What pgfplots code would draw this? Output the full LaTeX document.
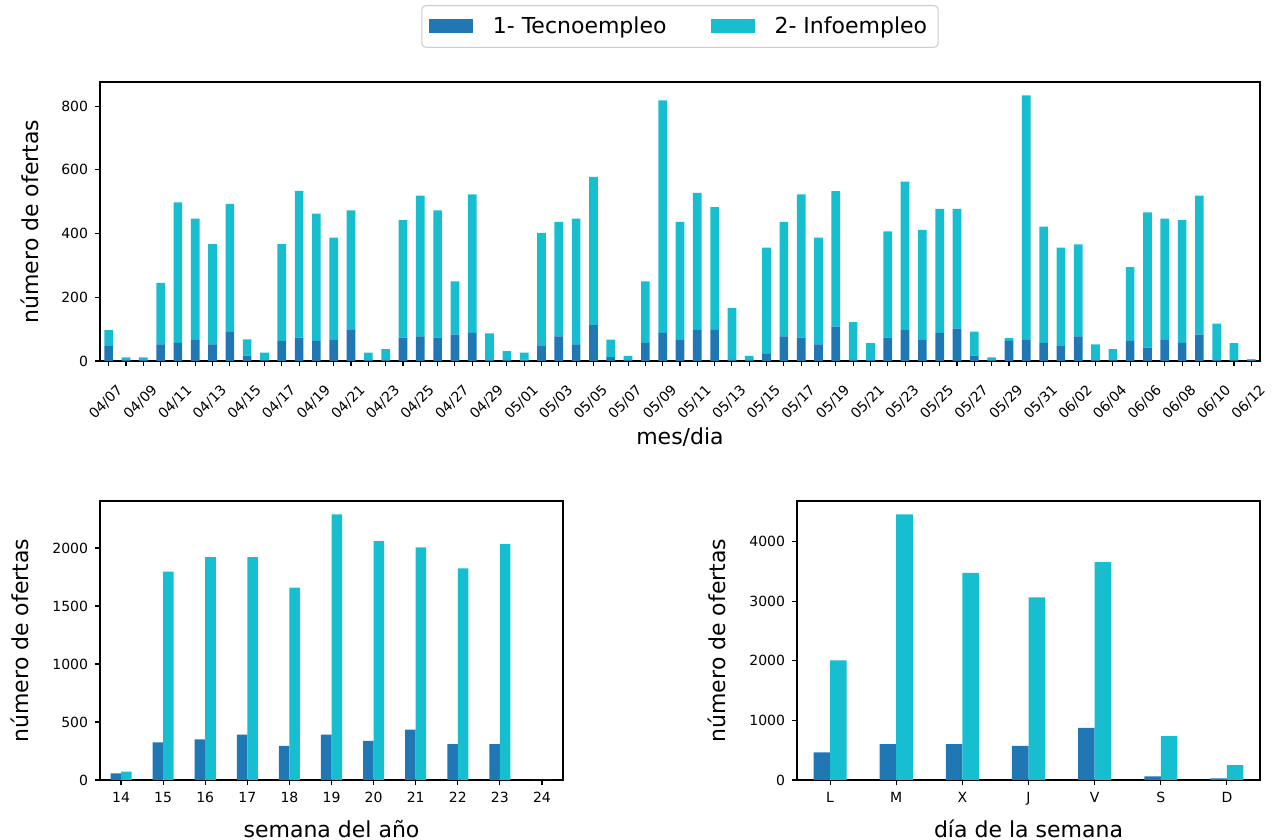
\documentclass[border=0pt]{standalone}
\usepackage{fontspec}
\setmainfont{DejaVu Sans}
\usepackage{pgfplots}
\usepackage{pgfplotstable}
\pgfplotsset{compat=1.18}
\definecolor{tblue}{HTML}{1F77B4}
\definecolor{tcyan}{HTML}{17BECF}

\pgfplotstableread{
i tec info
0 47 50
1 5 6
2 5 6
3 52 193
4 57 441
5 68 379
6 52 315
7 93 400
8 17 51
9 2 24
10 63 304
11 73 461
12 63 400
13 68 319
14 98 375
15 5 21
16 5 32
17 73 369
18 77 442
19 73 400
20 83 167
21 88 435
22 5 82
23 5 26
24 4 22
25 47 355
26 77 360
27 52 395
28 113 465
29 12 55
30 5 11
31 57 193
32 88 730
33 68 369
34 98 430
35 98 385
36 5 162
37 5 11
38 22 334
39 77 360
40 73 450
41 52 335
42 108 425
43 5 117
44 5 51
45 73 334
46 98 465
47 68 344
48 88 390
49 102 376
50 17 75
51 5 6
52 63 9
53 68 766
54 57 365
55 47 309
56 77 289
57 5 47
58 2 35
59 63 232
60 42 425
61 68 379
62 57 385
63 83 436
64 5 112
65 1 55
66 5 0
}\daily

\pgfplotstableread{
i tec info
0 57 72
1 324 1796
2 350 1922
3 392 1922
4 295 1659
5 392 2290
6 338 2060
7 435 2005
8 309 1825
9 309 2034
10 0 0
}\weekly

\pgfplotstableread{
i tec info
0 463 2008
1 603 4462
2 603 3476
3 575 3068
4 876 3660
5 61 736
6 28 251
}\weekday

\begin{document}
\begin{tikzpicture}
\useasboundingbox (0pt,0pt) rectangle (637pt,420pt);
\pgfplotsset{
  base/.style={
    scale only axis, height=139.5pt,
    axis line style={line width=0.55pt},
    every tick/.style={line width=0.55pt, black},
    major tick length=2.45pt, minor tick length=2.45pt,
    tick align=outside, xtick pos=left, ytick pos=left,
    tick label style={font=\fontsize{7}{8}\selectfont},
    label style={font=\fontsize{11}{13}\selectfont},
    /pgf/number format/assume math mode=true,
    /pgf/number format/1000 sep={},
    enlargelimits=false,
    ymin=0,
  },
}
\begin{axis}[base, at={(50pt,239.5pt)}, anchor=south west, width=580pt,
  xmin=-0.5, xmax=66.5, ymax=876,
  ybar stacked, bar width=0.5,
  xtick={0,2,...,66}, minor xtick={1,3,...,65},
  xticklabels={04/07,04/09,04/11,04/13,04/15,04/17,04/19,04/21,04/23,04/25,04/27,04/29,05/01,05/03,05/05,05/07,05/09,05/11,05/13,05/15,05/17,05/19,05/21,05/23,05/25,05/27,05/29,05/31,06/02,06/04,06/06,06/08,06/10,06/12},
  xticklabel style={yshift=-18.25pt, xshift=-1.4pt, rotate=45, anchor=center},
  ytick={0,200,400,600,800},
  xlabel={mes/dia}, ylabel={número de ofertas},
  xlabel style={at={(axis description cs:0.5,-0.2724)}, anchor=center},
  ylabel style={at={(axis description cs:-0.0603,0.5)}, anchor=center},
  legend columns=2,
  legend style={at={(0.5,1.199)}, anchor=center, draw=black!20, line width=0.5pt,
    rounded corners=2pt, font=\fontsize{11}{13}\selectfont,
    inner xsep=3.5pt, inner ysep=3.5pt,
    /tikz/every odd column/.append style={column sep=8pt},
    /tikz/every even column/.append style={column sep=20pt}},
]
\addplot[fill=tblue, draw=none, legend image code/.code={\fill[tblue, sharp corners] (0pt,-3.5pt) rectangle (22pt,3.5pt);}] table[x=i,y=tec]{\daily};
\addlegendentry{1- Tecnoempleo}
\addplot[fill=tcyan, draw=none, legend image code/.code={\fill[tcyan, sharp corners] (0pt,-3.5pt) rectangle (22pt,3.5pt);}] table[x=i,y=info]{\daily};
\addlegendentry{2- Infoempleo}
\end{axis}

\begin{axis}[base, at={(50pt,30pt)}, anchor=south west, width=231.5pt,
  xmin=-0.5, xmax=10.5, ymax=2405,
  ybar=0pt, bar width=0.25,
  xtick={0,1,2,3,4,5,6,7,8,9,10},
  xticklabels={14,15,16,17,18,19,20,21,22,23,24},
  ytick={0,500,1000,1500,2000},
  xlabel={semana del año}, ylabel={número de ofertas},
  xlabel style={at={(axis description cs:0.5,-0.1756)}, anchor=center},
  ylabel style={at={(axis description cs:-0.1728,0.5)}, anchor=center},
]
\addplot[fill=tblue, draw=none, bar shift=-0.125] table[x=i,y=tec]{\weekly};
\addplot[fill=tcyan, draw=none, bar shift=0.125] table[x=i,y=info]{\weekly};
\end{axis}

\begin{axis}[base, at={(398.5pt,30pt)}, anchor=south west, width=231.5pt,
  xmin=-0.5, xmax=6.5, ymax=4685,
  ybar=0pt, bar width=0.25,
  xtick={0,1,2,3,4,5,6},
  xticklabels={L,M,X,J,V,S,D},
  ytick={0,1000,2000,3000,4000},
  xlabel={día de la semana}, ylabel={número de ofertas},
  xlabel style={at={(axis description cs:0.5,-0.1756)}, anchor=center},
  ylabel style={at={(axis description cs:-0.1728,0.5)}, anchor=center},
]
\addplot[fill=tblue, draw=none, bar shift=-0.125] table[x=i,y=tec]{\weekday};
\addplot[fill=tcyan, draw=none, bar shift=0.125] table[x=i,y=info]{\weekday};
\end{axis}
\end{tikzpicture}
\end{document}
